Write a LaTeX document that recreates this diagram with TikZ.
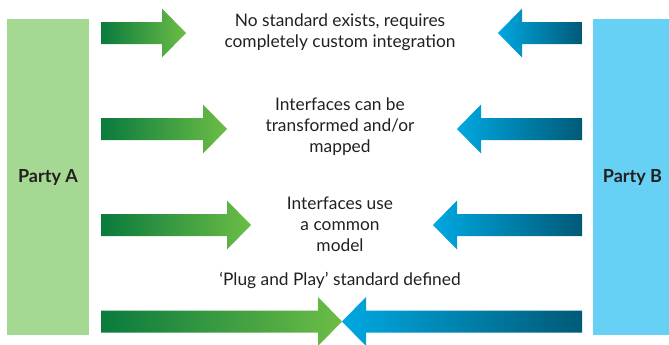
\documentclass[tikz,border=0pt]{standalone}
\usepackage{fontspec}
\setmainfont{Lato}
\usepackage{tikz}
\usetikzlibrary{positioning}
\usepackage{xcolor}
\definecolor{greendark}{HTML}{0A7A3E}
\definecolor{greenlight}{HTML}{6CBD45}
\definecolor{bluedark}{HTML}{005A78}
\definecolor{bluelight}{HTML}{00A8E1}
\definecolor{partyAgreen}{HTML}{A4D893}
\definecolor{partyBblue}{HTML}{66D0F5}
\definecolor{textgrey}{HTML}{231F20}
\newcommand{\greenarrow}[4]{ % Takes shaft start x, head base x, tip x, centre y as arguments
    \shade[left color=greendark, right color=greenlight] (#1,#4-11) -- (#2,#4-11) -- (#2,#4-24.5) -- (#3,#4) -- (#2,#4+24.5) -- (#2,#4+11) -- (#1,#4+11) -- cycle;
}
\newcommand{\bluearrow}[4]{ % Takes shaft end x, head base x, tip x, centre y as arguments
    \shade[left color=bluelight, right color=bluedark] (#1,#4-11) -- (#2,#4-11) -- (#2,#4-24.5) -- (#3,#4) -- (#2,#4+24.5) -- (#2,#4+11) -- (#1,#4+11) -- cycle;
}

\begin{document}
\begin{tikzpicture}[x=0.75pt, y=-0.75pt,
    caption/.style={align=center, text=textgrey, font=\fontsize{13pt}{15.75pt}\selectfont, inner sep=0pt},
    partybox/.style={inner sep=0pt, text=textgrey, font=\fontsize{13.5pt}{15.75pt}\selectfont\bfseries, minimum height=237pt}]
                \useasboundingbox (0,0) rectangle (669,344);

                % Parties
                \node[partybox, fill=partyAgreen, minimum width=61.5pt] (partyA) at (48,177) {Party A};
                \node[partybox, fill=partyBblue, minimum width=59.25pt] (partyB) at (632.5,177) {Party B};

                % No standard
                \greenarrow{101}{162}{186}{33}
                \bluearrow{582}{522}{498}{33}
                \node[caption] (nostandard) at (340,32.5) {No standard exists, requires\\completely custom integration};

                % Transformed
                \greenarrow{101}{203}{227}{129}
                \bluearrow{582}{481}{457}{129}
                \node[caption] (transformed) at (340,127) {Interfaces can be\\transformed and/or\\mapped};

                % Common model
                \greenarrow{101}{227}{251}{225}
                \bluearrow{582}{457}{433}{225}
                \node[caption] (commonmodel) at (340,224.5) {Interfaces use\\a common\\model};

                % Plug and play
                \greenarrow{101}{318}{342}{321.5}
                \bluearrow{582}{366}{342}{321.5}
                \node[caption] (plugplay) at (340,280) {‘Plug and Play’ standard defined};
            \end{tikzpicture}
\end{document}
